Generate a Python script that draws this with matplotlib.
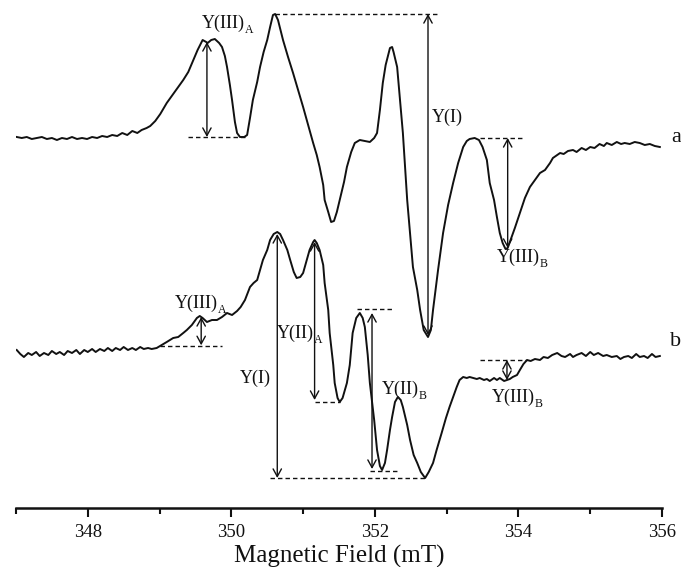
import numpy as np
import matplotlib
matplotlib.use("Agg")
import matplotlib.pyplot as plt
from matplotlib.ticker import MultipleLocator, NullFormatter

plt.rcParams['font.family'] = ['Liberation Serif', 'DejaVu Serif']

# ---------------- data (magnetic field in mT, intensity in arbitrary units) -------------
field_a = [347.01, 347.08, 347.15, 347.22, 347.29, 347.36, 347.43, 347.50, 347.57, 347.64,
           347.71, 347.78, 347.85, 347.92, 347.99, 348.06, 348.13, 348.20, 348.27, 348.34,
           348.41, 348.48, 348.55, 348.62, 348.69, 348.75, 348.82, 348.87, 348.94, 349.01,
           349.10, 349.21, 349.33, 349.40, 349.47, 349.53, 349.60, 349.65, 349.67, 349.72,
           349.77, 349.83, 349.87, 349.91, 349.94, 349.98, 350.01, 350.05, 350.08, 350.12,
           350.18, 350.22, 350.26, 350.30, 350.36, 350.40, 350.45, 350.50, 350.54, 350.58,
           350.61, 350.65, 350.72, 350.79, 350.86, 350.93, 351.00, 351.07, 351.14, 351.19,
           351.23, 351.28, 351.30, 351.35, 351.39, 351.43, 351.47, 351.51, 351.57, 351.61,
           351.67, 351.72, 351.79, 351.86, 351.93, 351.99, 352.03, 352.07, 352.11, 352.15,
           352.21, 352.24, 352.26, 352.31, 352.35, 352.39, 352.45, 352.49, 352.53, 352.59,
           352.63, 352.68, 352.74, 352.78, 352.81, 352.88, 352.95, 353.02, 353.09, 353.16,
           353.23, 353.28, 353.32, 353.39, 353.45, 353.50, 353.56, 353.60, 353.66, 353.70,
           353.74, 353.78, 353.82, 353.85, 353.89, 353.95, 354.02, 354.09, 354.16, 354.23,
           354.30, 354.37, 354.44, 354.48, 354.54, 354.58, 354.63, 354.69, 354.76, 354.81,
           354.88, 354.94, 355.00, 355.06, 355.13, 355.19, 355.23, 355.30, 355.37, 355.43,
           355.48, 355.55, 355.62, 355.69, 355.76, 355.83, 355.90, 355.97]
signal_a = [371, 370, 371, 369, 370, 371, 369, 370, 368, 370,
            369, 371, 369, 370, 369, 371, 370, 372, 371, 373,
            372, 375, 373, 377, 375, 378, 380, 382, 387, 394,
            405, 416, 428, 436, 448, 458, 468, 466, 465, 468,
            469, 465, 461, 452, 441, 423, 408, 386, 375, 371,
            371, 373, 390, 408, 426, 441, 456, 468, 481, 493,
            494, 488, 468, 451, 435, 418, 401, 383, 365, 353,
            341, 323, 308, 296, 286, 287, 296, 308, 326, 341,
            356, 365, 368, 367, 366, 370, 375, 398, 425, 443,
            460, 461, 456, 441, 408, 375, 308, 275, 241, 218,
            198, 178, 171, 178, 198, 238, 275, 303, 325, 345,
            361, 367, 369, 370, 368, 361, 348, 325, 308, 291,
            275, 265, 259, 260, 268, 280, 295, 310, 321, 328,
            335, 338, 345, 350, 353, 355, 354, 357, 358, 356,
            360, 358, 361, 360, 364, 362, 365, 363, 366, 364,
            365, 364, 366, 365, 363, 364, 362, 361]

field_b = [347.01, 347.06, 347.11, 347.17, 347.22, 347.28, 347.33, 347.39, 347.45, 347.50,
           347.56, 347.61, 347.67, 347.72, 347.78, 347.84, 347.89, 347.95, 348.00, 348.06,
           348.11, 348.17, 348.23, 348.28, 348.34, 348.39, 348.45, 348.50, 348.56, 348.62,
           348.67, 348.73, 348.78, 348.84, 348.89, 348.96, 349.03, 349.10, 349.19, 349.26,
           349.33, 349.38, 349.45, 349.52, 349.56, 349.60, 349.66, 349.73, 349.80, 349.87,
           349.94, 350.01, 350.08, 350.13, 350.19, 350.26, 350.31, 350.36, 350.40, 350.44,
           350.50, 350.54, 350.59, 350.64, 350.68, 350.72, 350.78, 350.82, 350.87, 350.91,
           350.96, 351.00, 351.05, 351.09, 351.14, 351.16, 351.19, 351.23, 351.28, 351.30,
           351.35, 351.37, 351.42, 351.44, 351.48, 351.51, 351.55, 351.61, 351.65, 351.69,
           351.74, 351.79, 351.83, 351.86, 351.90, 351.93, 351.99, 352.03, 352.07, 352.10,
           352.14, 352.17, 352.21, 352.24, 352.28, 352.32, 352.36, 352.39, 352.45, 352.49,
           352.54, 352.59, 352.64, 352.70, 352.75, 352.81, 352.86, 352.93, 352.99, 353.04,
           353.10, 353.14, 353.18, 353.23, 353.28, 353.32, 353.37, 353.42, 353.46, 353.52,
           353.56, 353.60, 353.66, 353.70, 353.74, 353.80, 353.84, 353.88, 353.92, 353.98,
           354.02, 354.07, 354.12, 354.17, 354.23, 354.30, 354.35, 354.41, 354.47, 354.54,
           354.60, 354.65, 354.72, 354.76, 354.81, 354.88, 354.94, 355.00, 355.05, 355.11,
           355.18, 355.23, 355.30, 355.37, 355.42, 355.47, 355.53, 355.58, 355.64, 355.69,
           355.75, 355.80, 355.86, 355.91, 355.97]
signal_b = [158, 154, 151, 155, 153, 156, 152, 155, 153, 157,
            154, 156, 153, 157, 155, 158, 154, 158, 156, 159,
            156, 159, 157, 160, 157, 160, 158, 161, 158, 160,
            158, 161, 159, 160, 159, 160, 163, 166, 170, 171,
            175, 178, 183, 190, 192, 190, 186, 188, 188, 191,
            195, 193, 197, 201, 208, 221, 225, 228, 238, 248,
            258, 268, 274, 276, 274, 268, 258, 248, 236, 230,
            231, 235, 248, 258, 266, 268, 265, 258, 243, 225,
            198, 175, 143, 125, 110, 106, 110, 125, 143, 175,
            190, 195, 190, 181, 153, 125, 88, 58, 42, 38,
            45, 58, 78, 91, 106, 111, 108, 101, 83, 68,
            53, 45, 36, 30, 36, 45, 58, 75, 90, 101,
            113, 121, 128, 131, 130, 131, 130, 129, 130, 128,
            129, 127, 130, 128, 130, 127, 128, 129, 131, 133,
            138, 144, 148, 147, 149, 148, 151, 150, 153, 155,
            152, 151, 154, 151, 153, 155, 152, 156, 153, 155,
            152, 153, 151, 152, 149, 151, 152, 150, 154, 151,
            152, 150, 154, 151, 152]

xticks_major = [348, 350, 352, 354, 356]
xtick_labels = ['348', '350', '352', '354', '356']

fa = np.array(field_a); sa = np.array(signal_a)
fb = np.array(field_b); sb = np.array(signal_b)


def extreme(f, s, lo, hi, kind):
    m = (f >= lo) & (f <= hi)
    idx = np.where(m)[0]
    j = idx[np.argmax(s[m])] if kind == 'max' else idx[np.argmin(s[m])]
    return f[j], s[j]


def value_at(f, s, x):
    return float(np.interp(x, f, s))


fig = plt.figure(figsize=(6.81, 5.67), dpi=100)
ax = fig.add_axes([16 / 681, 59 / 567, 646 / 681, 508 / 567])
ax.set_xlim(347, 356)
ax.set_ylim(0, 508)

lc = '#111111'
ax.plot(fa, sa, color=lc, lw=1.4)
ax.plot(fb, sb, color=lc, lw=1.4)

arrow_kw = dict(arrowstyle='<->,head_length=0.55,head_width=0.3', color=lc, lw=1.0,
                shrinkA=0, shrinkB=0)
dash_kw = dict(color=lc, lw=1.0, dashes=(3.2, 2.2))


def varrow(x, y0, y1):
    ax.annotate('', xy=(x, y1), xytext=(x, y0), arrowprops=arrow_kw)


def hdash(x0, x1, y):
    ax.plot([x0, x1], [y, y], **dash_kw)


fs = 13
fs_sub = 8.5


def label(x, y, main, sub=None):
    t = ax.text(x, y, main, fontsize=fs, ha='left', va='center', color=lc)
    if sub:
        ax.annotate(sub, xy=(1.0, 0.12), xycoords=t, fontsize=fs_sub, ha='left',
                    va='center', color=lc)
    return t


# ---- trace a annotations ----
_, top = extreme(fa, sa, 349.55, 349.8, 'max')
_, bot = extreme(fa, sa, 350.0, 350.3, 'min')
varrow(349.66, bot, top - 3)
hdash(349.40, 350.22, bot)
label(349.59, 485, 'Y(III)', 'A')

xp, top = extreme(fa, sa, 350.4, 350.9, 'max')
_, bot = extreme(fa, sa, 352.5, 353.0, 'min')
varrow(352.74, bot + 2, top)
hdash(xp, 352.86, top)
label(352.79, 391, 'Y(I)')

_, top = extreme(fa, sa, 353.2, 353.6, 'max')
_, bot = extreme(fa, sa, 353.7, 354.0, 'min')
varrow(353.85, bot + 1, top)
hdash(353.46, 354.09, top)
label(353.70, 251, 'Y(III)', 'B')

ax.text(356.13, 371, 'a', fontsize=16, ha='left', va='center', clip_on=False, color=lc)

# ---- trace b annotations ----
_, top = extreme(fb, sb, 349.5, 349.65, 'max')
base = value_at(fb, sb, 349.0)
varrow(349.58, base + 1, top - 1)
hdash(349.01, 349.87, base)
label(349.21, 205, 'Y(III)', 'A')

_, top = extreme(fb, sb, 350.5, 350.8, 'max')
xm, bot = extreme(fb, sb, 352.5, 352.9, 'min')
varrow(350.64, bot, top - 2)
hdash(350.54, xm, bot)
label(350.12, 130, 'Y(I)')

_, top = extreme(fb, sb, 351.0, 351.3, 'max')
xm, bot = extreme(fb, sb, 351.3, 351.6, 'min')
varrow(351.16, bot + 2, top - 2)
hdash(351.16, xm, bot)
label(350.64, 175, 'Y(II)', 'A')

_, top = extreme(fb, sb, 351.7, 351.9, 'max')
_, bot = extreme(fb, sb, 351.9, 352.2, 'min')
varrow(351.96, bot + 1, top)
hdash(351.75, 352.25, top + 4)
hdash(351.93, 352.33, bot - 1)
label(352.10, 119, 'Y(II)', 'B')

top = value_at(fb, sb, 354.12)
bot = value_at(fb, sb, 353.84)
varrow(353.84, bot, top)
hdash(353.46, 354.12, top)
label(353.63, 111, 'Y(III)', 'B')

ax.text(356.11, 166, 'b', fontsize=16, ha='left', va='center', clip_on=False, color=lc)

# ---- axes styling ----
for sp in ['top', 'left', 'right']:
    ax.spines[sp].set_visible(False)
ax.spines['bottom'].set_linewidth(1.8)
ax.spines['bottom'].set_color(lc)
ax.set_yticks([])
ax.set_xticks(xticks_major)
ax.set_xticklabels(xtick_labels)
ax.xaxis.set_minor_locator(MultipleLocator(1))
ax.xaxis.set_minor_formatter(NullFormatter())
ax.tick_params(axis='x', which='major', direction='out', length=6.5, width=1.5,
               labelsize=13.5, pad=5, colors=lc)
ax.tick_params(axis='x', which='minor', direction='out', length=4, width=1.5, colors=lc)
ax.set_xlabel('Magnetic Field (mT)', fontsize=18, labelpad=3, color=lc)
ax.patch.set_alpha(0)

fig.savefig('out.png', dpi=100)
